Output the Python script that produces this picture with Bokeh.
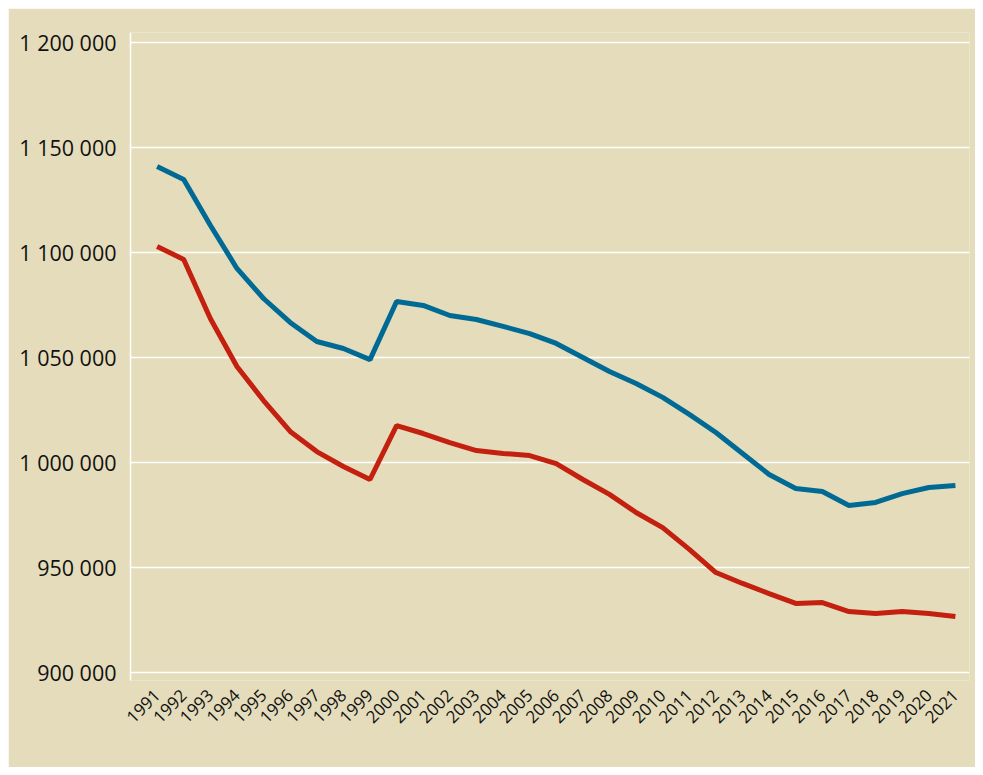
from bokeh.plotting import figure
from bokeh.models import FixedTicker, Range1d
from bokeh.embed import file_html
from bokeh.resources import INLINE
import math

years = list(range(1991, 2022))
blue = [1140900, 1134800, 1113000, 1092400, 1078100, 1066700, 1057600, 1054300, 1049000,
        1076700, 1074800, 1070000, 1068100, 1064800, 1061400, 1056700, 1050000, 1043300,
        1037600, 1031000, 1022900, 1014300, 1004300, 994300, 987600, 986200, 979500,
        981000, 985200, 988100, 989000]
red = [1102900, 1096700, 1068600, 1045700, 1029500, 1014800, 1005200, 998100, 991900,
       1017600, 1013800, 1009500, 1005700, 1004300, 1003300, 999500, 991900, 984800,
       976200, 969000, 958600, 947600, 942400, 937600, 932900, 933300, 929000,
       928100, 929000, 928100, 926700]
y_ticks = [900000, 950000, 1000000, 1050000, 1100000, 1150000, 1200000]
y_labels = ["900 000", "950 000", "1 000 000", "1 050 000", "1 100 000", "1 150 000", "1 200 000"]

BG = "#e4dcbb"
p = figure(width=967, height=759, output_backend="svg", toolbar_location=None,
           x_range=Range1d(1990, 2021.53), y_range=Range1d(896190, 1204760),
           min_border_left=122, min_border_right=6, min_border_top=24, min_border_bottom=87,
           margin=(8, 8, 8, 8))
p.background_fill_color = BG
p.border_fill_color = BG
p.outline_line_color = None

p.line(years, blue, line_color="#006a95", line_width=5)
p.line(years, red, line_color="#c4200f", line_width=5)

p.yaxis.ticker = FixedTicker(ticks=y_ticks)
p.yaxis.major_label_overrides = {t: l for t, l in zip(y_ticks, y_labels)}
p.yaxis.axis_line_color = "white"
p.yaxis.axis_line_width = 1.5
p.yaxis.major_tick_line_color = None
p.yaxis.minor_tick_line_color = None
p.yaxis.major_label_text_font = "Open Sans"
p.yaxis.major_label_text_font_size = "21.5px"
p.yaxis.major_label_text_color = "#111111"
p.yaxis.major_label_standoff = 8

p.xaxis.ticker = FixedTicker(ticks=years)
p.xaxis.axis_line_color = None
p.xaxis.major_tick_line_color = None
p.xaxis.minor_tick_line_color = None
p.xaxis.major_label_orientation = math.pi / 4
p.xaxis.major_label_text_font = "Open Sans"
p.xaxis.major_label_text_font_size = "17px"
p.xaxis.major_label_text_color = "#111111"
p.xaxis.major_label_standoff = 6

p.xgrid.grid_line_color = None
p.ygrid.grid_line_color = "white"
p.ygrid.grid_line_width = 1.5
p.ygrid.ticker = FixedTicker(ticks=y_ticks)

open("out.html", "w").write(file_html(p, INLINE))
